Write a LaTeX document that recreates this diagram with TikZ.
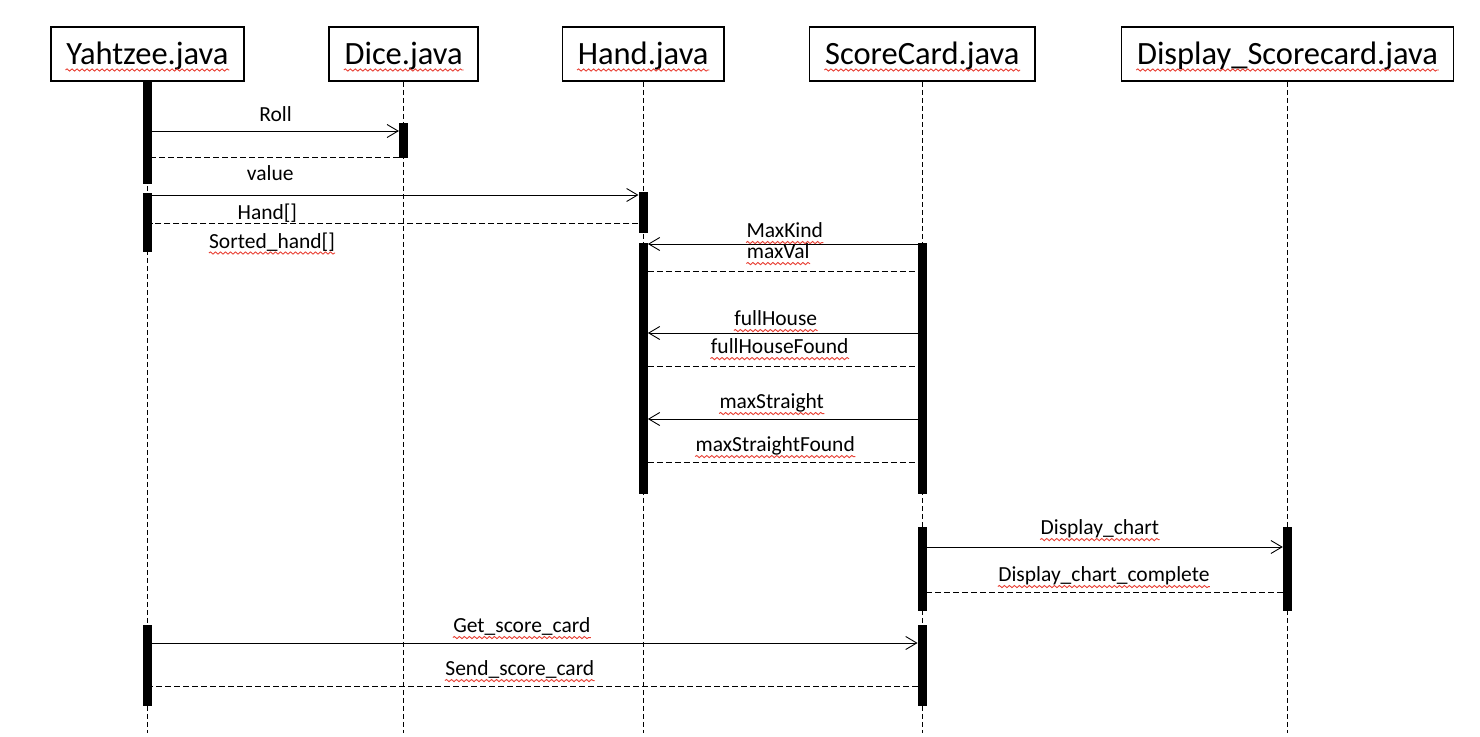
\documentclass[tikz,border=0pt]{standalone}
\usepackage{fontspec}
\setmainfont{Carlito}
\usetikzlibrary{positioning,arrows.meta,decorations.pathmorphing}
\definecolor{spellred}{RGB}{232,64,52}
\tikzset{
  obj/.style={draw, line width=1.6pt, inner xsep=15.5pt, minimum height=54pt,
    text height=22pt, text depth=2pt, font=\fontsize{32.5pt}{38pt}\selectfont},
  act/.style={fill, minimum width=9pt, inner sep=0pt, anchor=north},
  life/.style={line width=0.8pt, dash pattern=on 5pt off 3pt},
  call/.style={line width=0.9pt, -{Straight Barb[length=11pt,width=13pt]}},
  reply/.style={line width=0.9pt, dash pattern=on 6pt off 3pt},
  lbl/.style={inner sep=0pt, text depth=0pt, font=\fontsize{21.5pt}{26pt}\selectfont},
  squiggle/.style={draw=spellred, line width=0.9pt, decorate,
    decoration={snake, amplitude=1.1pt, segment length=5pt}}
}
\begin{document}
\begin{tikzpicture}[x=1pt, y=-1pt]
  \useasboundingbox (0,0) rectangle (1480,736);
  % objects
  \node[obj, anchor=west] (yz) at (50,54) {Yahtzee.java};
  \node[obj, right=83.5pt of yz] (dc) {Dice.java};
  \node[obj, right=82.5pt of dc] (hd) {Hand.java};
  \node[obj, right=84pt of hd] (sc) {ScoreCard.java};
  \node[obj, right=85pt of sc] (ds) {Display\_Scorecard.java};
  % lifelines
  \foreach \o in {yz,dc,hd,sc,ds}
    \draw[life] (\o.south) -- (\o.south |- 0,733);
  % activations
  \node[act, minimum height=102pt] (yz1) at (yz.south) {};
  \node[act, minimum height=59pt] (yz2) at (yz.south |- 0,193) {};
  \node[act, minimum height=81pt] (yz3) at (yz.south |- 0,625) {};
  \node[act, minimum height=35pt] (dc1) at (dc.south |- 0,123) {};
  \node[act, minimum height=41pt] (hd1) at (hd.south |- 0,192) {};
  \node[act, minimum height=251pt] (hd2) at (hd.south |- 0,243) {};
  \node[act, minimum height=251pt] (sc1) at (sc.south |- 0,243) {};
  \node[act, minimum height=84pt] (sc2) at (sc.south |- 0,527) {};
  \node[act, minimum height=81pt] (sc3) at (sc.south |- 0,625) {};
  \node[act, minimum height=84pt] (ds1) at (ds.south |- 0,527) {};
  % messages
  \draw[call] (yz1.east |- 0,131) -- node[lbl, above=9pt] (roll) {Roll} (dc1.west |- 0,131);
  \draw[reply] (dc1.west |- 0,157) -- (yz1.east |- 0,157);
  \draw[call] (yz2.east |- 0,195) -- node[lbl, above=14pt, pos=0.243] (value) {value} (hd1.west |- 0,195);
  \draw[reply] (hd1.west |- 0,223) -- node[lbl, above=3pt, pos=0.763] (hand) {Hand[]} (yz2.east |- 0,223);
  \node[lbl, anchor=base] (sorted) at (272,248) {Sorted\_hand[]};
  \draw[call] (sc1.west |- 0,244) -- node[lbl, above=6pt, xshift=2pt] (maxkind) {MaxKind} (hd2.east |- 0,244);
  \draw[reply] (hd2.east |- 0,271) -- node[lbl, above=12pt, xshift=-4.5pt] (maxval) {maxVal} (sc1.west |- 0,271);
  \draw[call] (sc1.west |- 0,333) -- node[lbl, above=7pt, xshift=-7pt] (fullh) {fullHouse} (hd2.east |- 0,333);
  \draw[reply] (hd2.east |- 0,366) -- node[lbl, above=12pt, xshift=-3pt] (fullhf) {fullHouseFound} (sc1.west |- 0,366);
  \draw[call] (sc1.west |- 0,419) -- node[lbl, above=10pt, xshift=-11pt] (maxst) {maxStraight} (hd2.east |- 0,419);
  \draw[reply] (hd2.east |- 0,462) -- node[lbl, above=10pt, xshift=-7.5pt] (maxstf) {maxStraightFound} (sc1.west |- 0,462);
  \draw[call] (sc2.east |- 0,547) -- node[lbl, above=12pt, xshift=-5pt] (dchart) {Display\_chart} (ds1.west |- 0,547);
  \draw[reply] (ds1.west |- 0,592) -- node[lbl, above=10pt, xshift=-1pt] (dchartc) {Display\_chart\_complete} (sc2.east |- 0,592);
  \draw[call] (yz3.east |- 0,643) -- node[lbl, above=10pt, xshift=-13pt] (getsc) {Get\_score\_card} (sc3.west |- 0,643);
  \draw[reply] (sc3.west |- 0,686) -- node[lbl, above=10pt, xshift=-15pt] (sendsc) {Send\_score\_card} (yz3.east |- 0,686);
  % spelling marks
  \foreach \o in {yz,dc,hd,sc,ds}
    \draw[squiggle] ([xshift=15.5pt,yshift=-6pt]\o.base west) -- ([xshift=-15.5pt,yshift=-6pt]\o.base east);
  \foreach \n in {sorted,maxkind,maxval,fullh,fullhf,maxst,maxstf,dchart,dchartc,getsc,sendsc}
    \draw[squiggle] ([yshift=-5pt]\n.base west) -- ([yshift=-5pt]\n.base east);
\end{tikzpicture}
\end{document}
